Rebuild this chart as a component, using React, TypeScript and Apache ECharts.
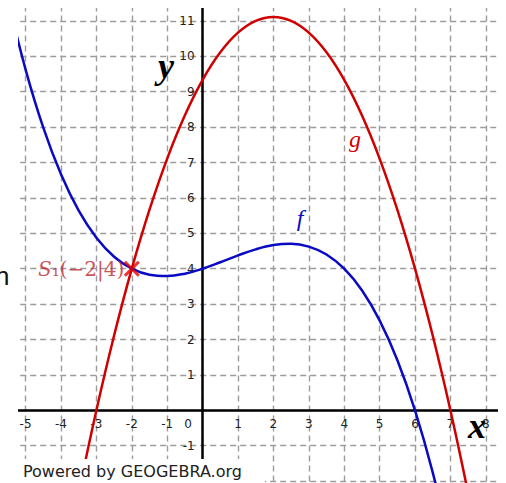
import { useEffect, useRef } from "react";
import * as echarts from "echarts";

// Axis extents (whole units) and grid spacing
const X_RANGE = [-6, 9];
const Y_RANGE = [-3, 12];
const TICK_STEP = 1;
// Range of tick labels that are printed
const X_LABEL_RANGE = [-5, 8];
const Y_LABEL_RANGE = [-1, 11];

// f: cubic curve (blue), sampled points
const F_X = [-5.5, -5, -4.5, -4, -3.5, -3, -2.5, -2, -1.5, -1, -0.5, 0, 0.5, 1, 1.5, 2, 2.5, 3, 3.5, 4, 4.5, 5, 5.5, 6, 6.5, 7];
const F_Y = [11.62, 9.625, 7.984, 6.667, 5.64, 4.875, 4.339, 4.0, 3.828, 3.792, 3.859, 4.0, 4.182, 4.375, 4.547, 4.667, 4.703, 4.625, 4.401, 4.0, 3.391, 2.542, 1.422, 0, -1.753, -3.875];

// g: parabola (red), sampled points
const G_X = [-3.5, -3, -2.5, -2, -1.5, -1, -0.5, 0, 0.5, 1, 1.5, 2, 2.5, 3, 3.5, 4, 4.5, 5, 5.5, 6, 6.5, 7, 7.5];
const G_Y = [-2.333, 0, 2.111, 4.0, 5.667, 7.111, 8.333, 9.333, 10.111, 10.667, 11.0, 11.111, 11.0, 10.667, 10.111, 9.333, 8.333, 7.111, 5.667, 4.0, 2.111, 0, -2.333];

// Intersection point S1
const S1 = [-2, 4];
const S1_TEXT = "{s|S}{n|₁(−2|4)}";

const BLUE = "#0a0ac4";
const RED = "#d00000";
const LABEL_RED = "#c0262b";

// Plot frame in pixels: one unit = UNIT px, origin at (ORIGIN_X, ORIGIN_Y)
const UNIT = 35.4;
const ORIGIN_X = 202.6;
const ORIGIN_Y = 410.3;

export default function App() {
  const ref = useRef<HTMLDivElement>(null);

  useEffect(() => {
    const chart = echarts.init(ref.current!, null, { renderer: "svg" });
    const fData = F_X.map((x, i) => [x, F_Y[i]]);
    const gData = G_X.map((x, i) => [x, G_Y[i]]);

    const gridLeft = ORIGIN_X + X_RANGE[0] * UNIT;
    const gridTop = ORIGIN_Y - Y_RANGE[1] * UNIT;
    const gridW = (X_RANGE[1] - X_RANGE[0]) * UNIT;
    const gridH = (Y_RANGE[1] - Y_RANGE[0]) * UNIT;
    // shift the axes from the grid edges onto the zero lines
    const xAxisOffset = -(gridTop + gridH - ORIGIN_Y);
    const yAxisOffset = -(ORIGIN_X - gridLeft);

    const axisLabelFont = {
      fontFamily: "DejaVu Sans",
      fontSize: 12,
      color: "#222",
    };
    const gridLine = {
      show: true,
      lineStyle: { color: "#9c9c9c", width: 1.4, type: [6, 4] as number[] },
    };
    const inRange = (v: number, r: number[]) => v >= r[0] && v <= r[1];

    chart.setOption({
      animation: false,
      backgroundColor: "#fff",
      grid: {
        left: gridLeft,
        top: gridTop,
        width: gridW,
        height: gridH,
        containLabel: false,
        outerBoundsMode: "none",
      },
      xAxis: {
        type: "value",
        position: "bottom",
        offset: xAxisOffset,
        min: X_RANGE[0],
        max: X_RANGE[1],
        interval: TICK_STEP,
        axisLine: { onZero: false, lineStyle: { color: "#000", width: 2.5 } },
        axisTick: { show: false },
        axisLabel: {
          ...axisLabelFont,
          margin: 8,
          hideOverlap: false,
          formatter: (v: number) =>
            !inRange(v, X_LABEL_RANGE) ? "" : v === 0 ? "{z|0}" : String(v),
          rich: { z: { ...axisLabelFont, padding: [0, 29, 0, 0] } },
        },
        splitLine: gridLine,
      },
      yAxis: {
        type: "value",
        position: "left",
        offset: yAxisOffset,
        min: Y_RANGE[0],
        max: Y_RANGE[1],
        interval: TICK_STEP,
        axisLine: { onZero: false, lineStyle: { color: "#000", width: 2.5 } },
        axisTick: { show: false },
        axisLabel: {
          ...axisLabelFont,
          margin: 8,
          hideOverlap: false,
          formatter: (v: number) => (v === 0 || !inRange(v, Y_LABEL_RANGE) ? "" : String(v)),
        },
        splitLine: gridLine,
      },
      series: [
        {
          name: "g",
          type: "line",
          data: gData,
          smooth: 0.4,
          showSymbol: false,
          lineStyle: { color: RED, width: 2.5 },
          z: 3,
        },
        {
          name: "f",
          type: "line",
          data: fData,
          smooth: 0.4,
          showSymbol: false,
          lineStyle: { color: BLUE, width: 2.5 },
          z: 4,
        },
        {
          name: "S1",
          type: "scatter",
          data: [S1],
          symbol: "path://M0,0L10,10M10,0L0,10",
          symbolSize: 14,
          itemStyle: { color: "none", borderColor: "#e60000", borderWidth: 3 },
          label: {
            show: true,
            position: "left",
            distance: -2,
            formatter: S1_TEXT,
            rich: {
              s: { fontFamily: "DejaVu Serif", fontStyle: "italic", fontSize: 20, color: LABEL_RED },
              n: { fontFamily: "DejaVu Serif", fontSize: 20, color: LABEL_RED },
            },
          },
          z: 5,
        },
      ],
      graphic: [
        // white margins around the drawing view
        { type: "rect", z: 100, shape: { x: 0, y: 0, width: 18, height: 483 }, style: { fill: "#fff" } },
        { type: "rect", z: 100, shape: { x: 0, y: 0, width: 506, height: 8 }, style: { fill: "#fff" } },
        { type: "rect", z: 100, shape: { x: 498, y: 0, width: 8, height: 483 }, style: { fill: "#fff" } },
        { type: "rect", z: 100, shape: { x: 18, y: 459, width: 247, height: 24 }, style: { fill: "#fff" } },
        {
          type: "text",
          z: 101,
          x: 23,
          y: 471,
          style: {
            text: "Powered by GEOGEBRA.org",
            font: "16px 'DejaVu Sans'",
            fill: "#222",
            textVerticalAlign: "middle",
          },
        },
        {
          type: "text",
          z: 101,
          x: -5,
          y: 276,
          style: {
            text: "n",
            font: "26px 'Liberation Sans'",
            fill: "#111",
            textVerticalAlign: "middle",
          },
        },
        {
          type: "text",
          z: 101,
          x: 166,
          y: 66,
          style: {
            text: "y",
            font: "italic bold 36px 'Liberation Serif'",
            fill: "#000",
            textAlign: "center",
            textVerticalAlign: "middle",
          },
        },
        {
          type: "text",
          z: 101,
          x: 477,
          y: 426,
          style: {
            text: "x",
            font: "italic bold 36px 'Liberation Serif'",
            fill: "#000",
            textAlign: "center",
            textVerticalAlign: "middle",
          },
        },
        {
          type: "text",
          z: 101,
          x: 355,
          y: 139,
          style: {
            text: "g",
            font: "italic 24px 'Liberation Serif'",
            fill: RED,
            textAlign: "center",
            textVerticalAlign: "middle",
          },
        },
        {
          type: "text",
          z: 101,
          x: 300,
          y: 218,
          style: {
            text: "f",
            font: "italic 24px 'Liberation Serif'",
            fill: BLUE,
            textAlign: "center",
            textVerticalAlign: "middle",
          },
        },
      ],
    });
    return () => chart.dispose();
  }, []);

  return (
    <div
      ref={ref}
      style={{ position: "absolute", left: 0, top: 0, width: 506, height: 483, background: "#fff" }}
    />
  );
}
